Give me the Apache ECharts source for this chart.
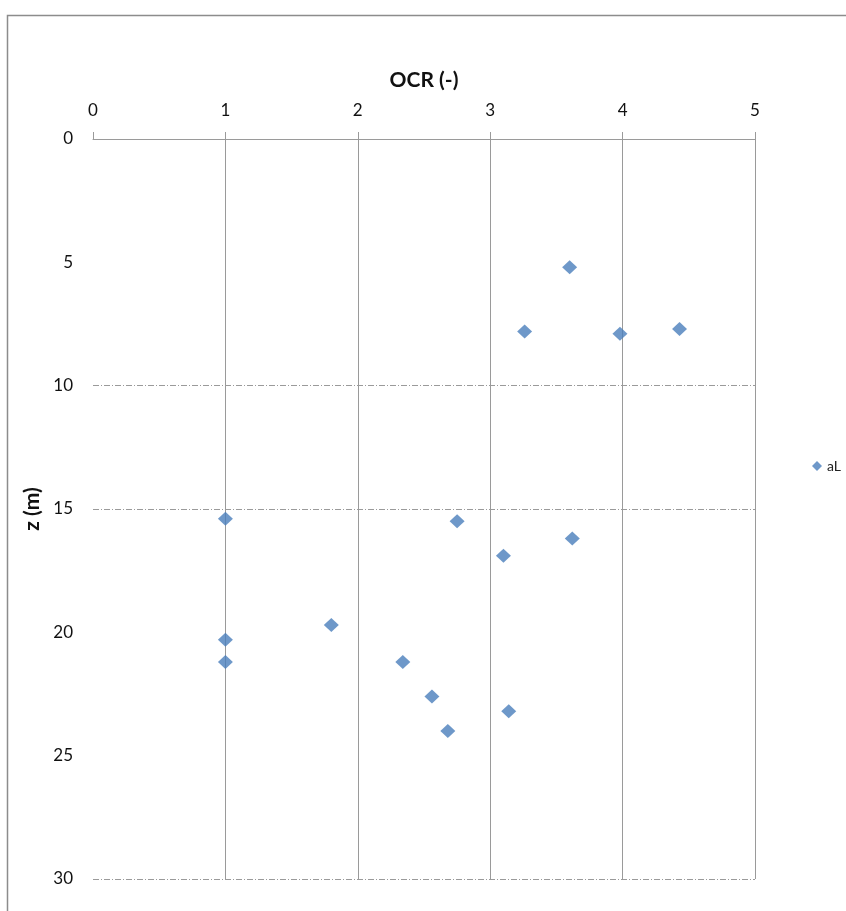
<!DOCTYPE html>
<html>
<head>
<meta charset="utf-8">
<script src="https://cdn.jsdelivr.net/npm/echarts@6/dist/echarts.min.js"></script>
<style>
  html, body { margin: 0; padding: 0; background: #fff; }
  #chart { width: 846px; height: 911px; }
</style>
</head>
<body>
<div id="chart"></div>
<script>
// OCR profile against depth
const seriesName = 'aL';
const ocrValues   = [3.60, 3.26, 3.98, 4.43, 1.00, 2.75, 3.62, 3.10, 1.80, 1.00, 1.00, 2.34, 2.56, 3.14, 2.68];
const depthValues = [5.2, 7.8, 7.9, 7.7, 15.4, 15.5, 16.2, 16.9, 19.7, 20.3, 21.2, 21.2, 22.6, 23.2, 24.0];
const xTicks = [0, 1, 2, 3, 4, 5];
const yTicks = [0, 5, 10, 15, 20, 25, 30];
const dashedDepths = [10, 15, 30];

const points = ocrValues.map((v, i) => [v, depthValues[i]]);
const gridColor = '#9a9a9a';
const font = 'Lato, "Open Sans", sans-serif';

const chart = echarts.init(document.getElementById('chart'), null, { renderer: 'canvas' });
chart.setOption({
  backgroundColor: '#ffffff',
  animation: false,
  graphic: [{
    type: 'rect',
    left: 5, top: 13,
    shape: { width: 1000, height: 1000 },
    style: { fill: 'none', stroke: '#8c8c8c', lineWidth: 1.5 },
    silent: true
  }],
  legend: {
    left: 807, top: 454,
    itemWidth: 10, itemHeight: 10,
    itemGap: 4,
    textStyle: { fontFamily: font, fontSize: 14, color: '#222' },
    data: [{ name: seriesName, icon: 'diamond' }]
  },
  grid: { left: 93, right: 91, top: 139, bottom: 32, containLabel: false },
  xAxis: {
    type: 'value',
    position: 'top',
    min: xTicks[0], max: xTicks[xTicks.length - 1], interval: 1,
    name: 'OCR (-)',
    nameLocation: 'middle',
    nameGap: 48,
    nameTextStyle: { fontFamily: font, fontSize: 21, fontWeight: 'bold', color: '#111' },
    axisLine: { show: true, lineStyle: { color: gridColor, width: 1 } },
    axisTick: { show: true, length: 7, lineStyle: { color: gridColor } },
    axisLabel: { fontFamily: font, fontSize: 17, color: '#111', margin: 20 },
    splitLine: { show: true, showMinLine: false, lineStyle: { color: gridColor, width: 1 } }
  },
  yAxis: {
    type: 'value',
    inverse: true,
    min: yTicks[0], max: yTicks[yTicks.length - 1], interval: 5,
    name: 'z (m)',
    nameLocation: 'middle',
    nameGap: 45,
    nameRotate: 90,
    nameTextStyle: { fontFamily: font, fontSize: 21, fontWeight: 'bold', color: '#111' },
    axisLine: { show: false },
    axisTick: { show: false },
    axisLabel: { fontFamily: font, fontSize: 17, color: '#111', margin: 20 },
    splitLine: { show: false }
  },
  series: [{
    name: seriesName,
    type: 'scatter',
    symbol: 'diamond',
    symbolSize: [15, 14],
    itemStyle: { color: '#4a7ebb' },
    data: points,
    z: 5,
    markLine: {
      silent: true,
      symbol: 'none',
      label: { show: false },
      lineStyle: { color: gridColor, width: 1, type: [6, 2, 1, 2] },
      data: dashedDepths.map(d => ({ yAxis: d }))
    }
  }]
});
</script>
</body>
</html>
